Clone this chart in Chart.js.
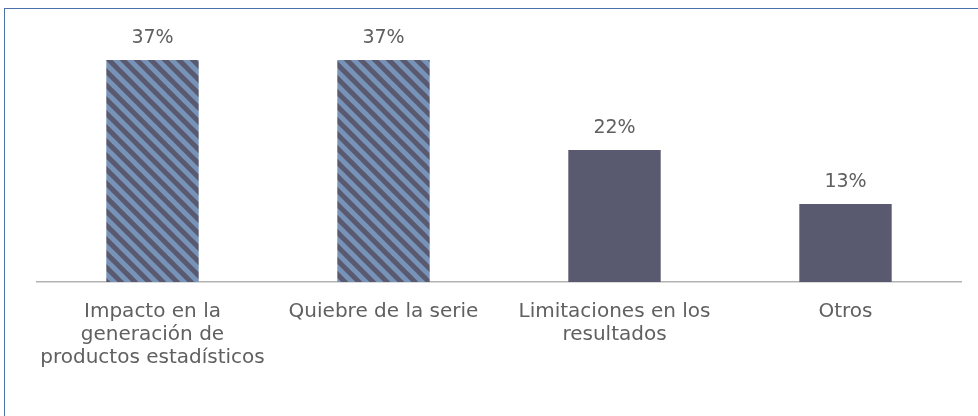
<!DOCTYPE html>
<html>
<head>
<meta charset="utf-8">
<script src="https://cdn.jsdelivr.net/npm/chart.js@4.4.0/dist/chart.umd.min.js"></script>
<style>
  html, body { margin: 0; padding: 0; background: #fff; }
  #wrap { position: relative; width: 978px; height: 416px; }
  #frame { position: absolute; left: 4px; top: 8px; right: -2px; bottom: -2px;
           border-left: 1px solid #4a71a9; border-top: 1px solid #4a71a9; }
  canvas { position: absolute; left: 0; top: 0; }
</style>
</head>
<body>
<div id="wrap">
  <div id="frame"></div>
  <canvas id="barChart" width="978" height="416"></canvas>
</div>
<script>
var categories = [
    ['Impacto en la', 'generación de', 'productos estadísticos'],
    'Quiebre de la serie',
    ['Limitaciones en los', 'resultados'],
    'Otros'
];
var values = [37, 37, 22, 13];
var hatched = [true, true, false, false];

var darkColor = '#59596f';
var stripeColor = '#7893b8';
var textColor = '#606060';

// diagonal stripe pattern for the first two bars
function makeStripes() {
    var size = 14;
    var c = document.createElement('canvas');
    c.width = size;
    c.height = size;
    var g = c.getContext('2d');
    g.fillStyle = darkColor;
    g.fillRect(0, 0, size, size);
    g.strokeStyle = stripeColor;
    g.lineWidth = 5;
    for (var k = -1; k <= 1; k++) {
        g.beginPath();
        g.moveTo(k * size - 2, -2);
        g.lineTo(k * size + size + 2, size + 2);
        g.stroke();
    }
    return g.createPattern(c, 'repeat');
}
var stripes = makeStripes();

var valueLabels = {
    id: 'valueLabels',
    afterDatasetsDraw: function(chart) {
        var ctx = chart.ctx;
        var meta = chart.getDatasetMeta(0);
        ctx.save();
        ctx.font = '19px "DejaVu Sans"';
        ctx.fillStyle = textColor;
        ctx.textAlign = 'center';
        ctx.textBaseline = 'alphabetic';
        meta.data.forEach(function(bar, i) {
            ctx.fillText(values[i] + '%', bar.x, bar.y - 17);
        });
        ctx.restore();
    }
};

var ctx = document.getElementById('barChart').getContext('2d');
var myChart = new Chart(ctx, {
    type: 'bar',
    data: {
        labels: categories,
        datasets: [{
            data: values,
            backgroundColor: hatched.map(function(h) { return h ? stripes : darkColor; }),
            borderWidth: 0,
            barPercentage: 0.4,
            categoryPercentage: 1
        }]
    },
    options: {
        responsive: false,
        animation: false,
        layout: { padding: { left: 37, right: 17, top: 42, bottom: 0 } },
        plugins: {
            legend: { display: false },
            tooltip: { enabled: false }
        },
        scales: {
            x: {
                grid: { display: false },
                border: { display: true, color: '#b3b3b3', width: 1.5 },
                ticks: {
                    color: textColor,
                    font: { family: 'DejaVu Sans', size: 20, lineHeight: 1.15 },
                    padding: 10,
                    maxRotation: 0
                },
                afterFit: function(s) { s.height = 134; }
            },
            y: {
                display: false,
                min: 0,
                max: 40
            }
        }
    },
    plugins: [valueLabels]
});
</script>
</body>
</html>
